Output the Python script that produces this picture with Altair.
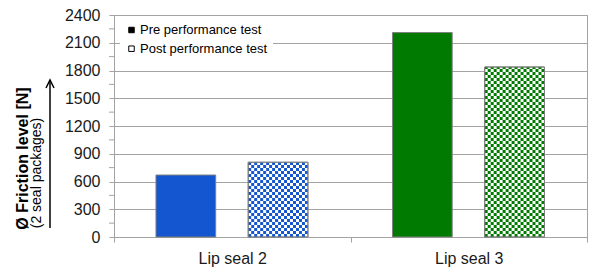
import math
import altair as alt
import pandas as pd

# ---------------- data ----------------
categories = ["Lip seal 2", "Lip seal 3"]
series = ["Pre performance test", "Post performance test"]
pre_values = [670, 2210]
post_values = [808, 1838]
y_major = list(range(0, 2401, 300))
y_minor = list(range(150, 2400, 300))
y_max = 2400

# ---------------- styles / layout ----------------
cat_colors = ["#1456D0", "#007A00"]
grid_color = "#a3a3a3"
bar_stroke = "#808080"
FONT = "Liberation Sans"
PLOT_W, PLOT_H = 473, 222
PRE_START, POST_START, BAR_W = 0.1775, 0.5675, 0.2525
N_COLS = 20
CELL_W = BAR_W / N_COLS
CELL_H = y_max / 74.0

bars = pd.DataFrame({
    "category": categories + categories,
    "idx": [0, 1, 0, 1],
    "series": [series[0]] * 2 + [series[1]] * 2,
    "value": pre_values + post_values,
})

cell_rows = []
for i, v in enumerate(post_values):
    for c in range(N_COLS):
        for r in range(int(math.ceil(v / CELL_H))):
            if (c + r) % 2 == 0:
                cell_rows.append({"category": categories[i], "idx": i, "col": c, "row": r, "value": v})
cells = pd.DataFrame(cell_rows)
minor = pd.DataFrame({"value": y_minor})

xscale = alt.Scale(domain=[0, 2], nice=False, zero=False)
yscale = alt.Scale(domain=[0, y_max], nice=False, zero=True)

label_expr = " : ".join(
    [f"datum.value == {i + 0.5} ? '{c}'" for i, c in enumerate(categories)]
) + " : ''"

xaxis = alt.Axis(
    values=[0, 0.5, 1, 1.5, 2], tickCount=10, labelExpr=label_expr, title=None, grid=False,
    tickOpacity={"condition": {"test": "datum.value % 1 != 0", "value": 0}, "value": 1},
    tickSize=5, tickColor=grid_color, domainColor=grid_color, labelOverlap=False,
    labelFlush=False, labelFontSize=16, labelFont=FONT, labelColor="#1a1a1a", labelPadding=8,
)
yaxis = alt.Axis(
    values=y_major, tickCount=20, format="d", labelOverlap=False, labelFlush=False,
    gridColor=grid_color, tickColor=grid_color, domainColor=grid_color, tickSize=5,
    labelFontSize=16, labelFont=FONT, labelColor="#1a1a1a", labelPadding=9,
    title="Ø Friction level [N]", titleFont=FONT, titleFontSize=16, titleFontWeight="bold",
    titleColor="black", titleX=-91.5, titleY=143, titleAngle=270, titleAlign="center",
    titleBaseline="middle",
)

fill_scale = alt.Scale(domain=categories, range=cat_colors)

pre = alt.Chart(bars).transform_filter(
    f"datum.series == '{series[0]}'"
).transform_calculate(
    x0=f"datum.idx + {PRE_START}", x1=f"datum.idx + {PRE_START + BAR_W}", y0="0"
).mark_rect(stroke=bar_stroke, strokeWidth=1).encode(
    x=alt.X("x0:Q", scale=xscale, axis=xaxis),
    x2="x1:Q",
    y=alt.Y("value:Q", scale=yscale, axis=yaxis),
    y2="y0:Q",
    fill=alt.Fill("category:N", scale=fill_scale, legend=None),
)

post_base = alt.Chart(bars).transform_filter(
    f"datum.series == '{series[1]}'"
).transform_calculate(
    x0=f"datum.idx + {POST_START}", x1=f"datum.idx + {POST_START + BAR_W}", y0="0"
).mark_rect(fill="white", stroke=bar_stroke, strokeWidth=1).encode(
    x=alt.X("x0:Q"), x2="x1:Q", y=alt.Y("value:Q"), y2="y0:Q",
)

cell_layer = alt.Chart(cells).transform_calculate(
    x0=f"datum.idx + {POST_START} + datum.col * {CELL_W}",
    x1=f"datum.idx + {POST_START} + (datum.col + 1) * {CELL_W}",
    y0=f"datum.row * {CELL_H}",
    value=f"min((datum.row + 1) * {CELL_H}, datum.value)",
).mark_rect().encode(
    x=alt.X("x0:Q"), x2="x1:Q", y=alt.Y("value:Q"), y2="y0:Q",
    fill=alt.Fill("category:N", scale=fill_scale, legend=None),
)

post_outline = alt.Chart(bars).transform_filter(
    f"datum.series == '{series[1]}'"
).transform_calculate(
    x0=f"datum.idx + {POST_START}", x1=f"datum.idx + {POST_START + BAR_W}", y0="0"
).mark_rect(fill="white", fillOpacity=0, stroke=bar_stroke, strokeWidth=1).encode(
    x=alt.X("x0:Q"), x2="x1:Q", y=alt.Y("value:Q"), y2="y0:Q",
)

minor_ticks = alt.Chart(minor).mark_rule(color=grid_color, strokeWidth=1).encode(
    x=alt.value(-5), x2=alt.value(0), y=alt.Y("value:Q"),
)

legend_layer = alt.Chart(bars).transform_calculate(
    x0="datum.idx + 0.5"
).mark_square(opacity=0, stroke="black", strokeWidth=1).encode(
    x=alt.X("x0:Q"), y=alt.Y("value:Q"),
    color=alt.Color(
        "series:N",
        scale=alt.Scale(domain=series, range=["black", "white"]),
        legend=alt.Legend(
            orient="none", legendX=6, legendY=3.5, title=None, fillColor="white",
            padding=5, rowPadding=4.7, labelFontSize=13, labelFont=FONT, labelColor="black",
            symbolSize=30, symbolType="square", symbolStrokeColor="black",
            symbolStrokeWidth=1, symbolOpacity=1, labelLimit=300, labelOffset=2,
        ),
    ),
)

one = alt.Data(values=[{"k": 1}])
subtitle = alt.Chart(one).mark_text(
    angle=270, fontSize=14, font=FONT, color="black", align="center", baseline="middle"
).encode(x=alt.value(-77.5), y=alt.value(158), text=alt.value("(2 seal packages)"))

arrow_line = alt.Chart(one).mark_rule(color="black", strokeWidth=1.5).encode(
    x=alt.value(-64), y=alt.value(213), y2=alt.value(66)
)
arrow_head = alt.Chart(one).mark_point(
    shape="M-1,1L0,-1L1,1", filled=False, stroke="black", strokeWidth=1.5, size=64, opacity=1
).encode(x=alt.value(-64), y=alt.value(69))

chart = alt.layer(
    pre, post_base, cell_layer, post_outline, minor_ticks, legend_layer,
    subtitle, arrow_line, arrow_head
).properties(
    width=PLOT_W, height=PLOT_H, autosize="none",
    padding={"left": 114, "top": 15, "right": 13, "bottom": 38},
    background="white",
).configure_view(stroke=grid_color, strokeWidth=1)

chart.save("out.html", embed_options={"renderer": "svg", "actions": False})
